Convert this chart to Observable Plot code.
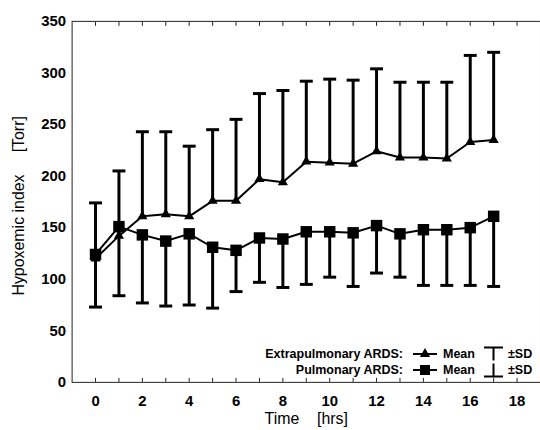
<!DOCTYPE html>
<html><head><meta charset="utf-8">
<script src="https://cdn.jsdelivr.net/npm/d3@7"></script>
<script src="https://cdn.jsdelivr.net/npm/@observablehq/plot@0.6"></script>
<style>
body{margin:0;background:#fff;}
#wrap{position:relative;width:540px;height:430px;overflow:hidden;font-family:"Liberation Sans",Arial,sans-serif;background:#fff;}
#legend{position:absolute;left:0;top:0;}
</style></head><body><div id="wrap"></div>
<script>
// ---- data ----
const hours     = [0, 1, 2, 3, 4, 5, 6, 7, 8, 9, 10, 11, 12, 13, 14, 15, 16, 17];
const extraMean = [120, 142, 161, 163, 161, 176, 176, 197, 194, 214, 213, 212, 224, 218, 218, 217, 233, 235];
const extraSD   = [54, 63, 82, 80, 68, 69, 79, 83, 89, 78, 81, 81, 80, 73, 73, 74, 84, 85];
const pulmMean  = [124, 151, 143, 137, 144, 131, 128, 140, 139, 146, 146, 145, 152, 144, 148, 148, 150, 161];
const pulmSD    = [51, 67, 66, 63, 69, 59, 40, 43, 47, 51, 44, 52, 46, 42, 54, 54, 56, 68];
const xTickLabels = [0, 2, 4, 6, 8, 10, 12, 14, 16, 18];
const yTickLabels = [0, 50, 100, 150, 200, 250, 300, 350];
const minorTicks  = [0, 1, 2, 3, 4, 5, 6, 7, 8, 9, 10, 11, 12, 13, 14, 15, 16, 17, 18];
const seriesNames = ["Extrapulmonary ARDS:", "Pulmonary ARDS:"];
const xTitle = "Time\u00a0\u00a0\u00a0\u00a0[hrs]";
const yTitle = "Hypoxemic index\u00a0\u00a0\u00a0\u00a0\u00a0[Torr]";

const extra = hours.map((t, i) => ({t, mean: extraMean[i], bound: extraMean[i] + extraSD[i]}));
const pulm  = hours.map((t, i) => ({t, mean: pulmMean[i], bound: pulmMean[i] - pulmSD[i]}));

const cap = {draw(ctx) { ctx.moveTo(-6.5, 0); ctx.lineTo(6.5, 0); }};
const font = "Liberation Sans, Arial, Helvetica, sans-serif";

const chart = Plot.plot({
  width: 543, height: 430,
  marginLeft: 72, marginRight: 0, marginTop: 21, marginBottom: 46,
  style: {fontFamily: font, background: "#fff", color: "#000"},
  x: {domain: [-1, 19]},
  y: {domain: [0, 350]},
  marks: [
    Plot.frame({stroke: "#222"}),
    Plot.axisX(minorTicks, {anchor: "bottom", tickSize: 4, dy: -4, tickFormat: () => "", label: null, stroke: "#222"}),
    Plot.axisX(minorTicks, {anchor: "top", tickSize: 4, dy: 4, tickFormat: () => "", label: null, stroke: "#222"}),
    Plot.axisX(xTickLabels, {anchor: "bottom", tickSize: 0, tickPadding: 13, fontSize: 15, fontWeight: "bold", label: null}),
    Plot.axisY(yTickLabels, {anchor: "left", tickSize: 0, tickPadding: 6, fontSize: 15, fontWeight: "bold", label: null}),
    Plot.text([xTitle], {frameAnchor: "bottom", textAnchor: "middle", lineAnchor: "middle", dy: 37, fontSize: 16}),
    Plot.text([yTitle], {frameAnchor: "left", textAnchor: "middle", lineAnchor: "middle", dx: -53, dy: 4, rotate: -90, fontSize: 16}),
    // extrapulmonary
    Plot.ruleX(extra, {x: "t", y1: "mean", y2: "bound", stroke: "#000", strokeWidth: 3}),
    Plot.dot(extra, {x: "t", y: "bound", symbol: cap, fill: "none", stroke: "#000", strokeWidth: 3}),
    Plot.line(extra, {x: "t", y: "mean", stroke: "#000", strokeWidth: 2}),
    Plot.dot(extra, {x: "t", y: "mean", symbol: "triangle", r: 3.8, fill: "#000", stroke: "none"}),
    // pulmonary
    Plot.ruleX(pulm, {x: "t", y1: "mean", y2: "bound", stroke: "#000", strokeWidth: 3}),
    Plot.dot(pulm, {x: "t", y: "bound", symbol: cap, fill: "none", stroke: "#000", strokeWidth: 3}),
    Plot.line(pulm, {x: "t", y: "mean", stroke: "#000", strokeWidth: 2}),
    Plot.dot(pulm, {x: "t", y: "mean", symbol: "square", r: 6.5, fill: "#000", stroke: "none"})
  ]
});
const wrap = document.getElementById("wrap");
wrap.appendChild(chart);

// ---- legend overlay ----
const lg = d3.select(wrap).append("svg").attr("id", "legend")
  .attr("width", 540).attr("height", 430)
  .style("font-family", font).style("font-weight", "bold").style("font-size", "12.5px");
const rows = [
  {name: seriesNames[0], cy: 354, marker: d3.symbolTriangle, size: 45, upper: true},
  {name: seriesNames[1], cy: 370, marker: d3.symbolSquare, size: 100, upper: false}
];
rows.forEach(r => {
  const g = lg.append("g");
  g.append("text").attr("x", 403).attr("y", r.cy).attr("dy", "0.35em").attr("text-anchor", "end").text(r.name);
  g.append("line").attr("x1", 413).attr("x2", 437).attr("y1", r.cy).attr("y2", r.cy).attr("stroke", "#000").attr("stroke-width", 2);
  g.append("path").attr("d", d3.symbol(r.marker, r.size)()).attr("transform", `translate(425,${r.cy})`).attr("fill", "#000");
  g.append("text").attr("x", 443).attr("y", r.cy).attr("dy", "0.35em").text("Mean");
  const h = 6.5;
  const capY = r.upper ? r.cy - h : r.cy + h;
  g.append("line").attr("x1", 493.5).attr("x2", 493.5).attr("y1", r.cy - h).attr("y2", r.cy + h).attr("stroke", "#000").attr("stroke-width", 2);
  g.append("line").attr("x1", 484).attr("x2", 503).attr("y1", capY).attr("y2", capY).attr("stroke", "#000").attr("stroke-width", 2);
  g.append("text").attr("x", 508).attr("y", r.cy).attr("dy", "0.35em").text("\u00b1SD");
});
</script></body></html>
